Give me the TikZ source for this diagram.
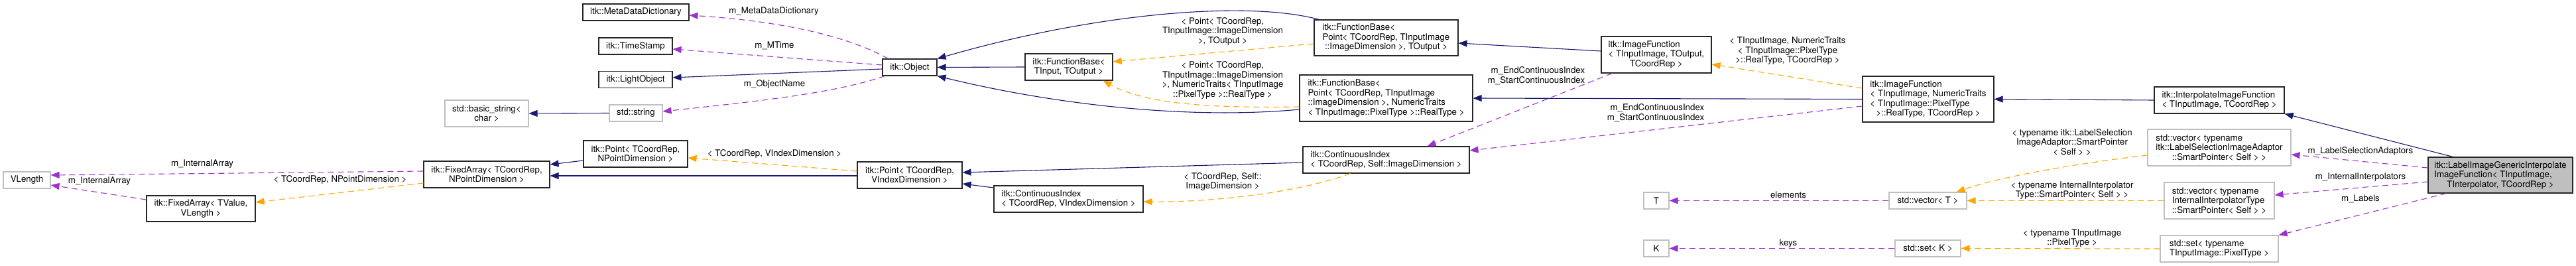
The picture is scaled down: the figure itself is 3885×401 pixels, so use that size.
\documentclass[tikz,border=0pt]{standalone}
\usepackage{fontspec}
\setmainfont{TeX Gyre Heros}
\usepackage{tikz}
\usetikzlibrary{arrows.meta}
\definecolor{dxNavy}{HTML}{191970}
\definecolor{dxPurple}{HTML}{9A32CD}
\definecolor{dxOrange}{HTML}{FFA500}
\definecolor{dxGray}{HTML}{BFBFBF}
\newcommand{\ctr}[1]{\hfill#1\hfill\null}
\tikzset{
  cls/.style={rectangle, draw=black!85, line width=1.1pt, fill=white, inner sep=0pt, align=left, font=\fontsize{13.3}{14.5}\selectfont},
  ext/.style={cls, draw=dxGray},
  focus/.style={cls, fill=dxGray},
  lbl/.style={inner sep=0pt, align=center, font=\fontsize{13.3}{14.5}\selectfont},
  inherit/.style={-{Triangle[length=13pt,width=10pt]}, line width=1.1pt, draw=dxNavy},
  member/.style={-{Triangle[length=13pt,width=10pt]}, line width=1.1pt, draw=dxPurple, dash pattern=on 9pt off 6pt},
  templ/.style={-{Triangle[length=13pt,width=10pt]}, line width=1.1pt, draw=dxOrange, dash pattern=on 9pt off 6pt}
}
\begin{document}
\begin{tikzpicture}[x=1pt,y=-1pt]
\useasboundingbox (0,0) rectangle (3885,401);
% classes
\node[ext, minimum width=71, minimum height=25] (vlen) at (40.5,271.5) {VLength};
\node[cls, minimum width=164, minimum height=39] (faTV) at (303,314.5) {itk::FixedArray< TValue,\\\ctr{VLength >}};
\node[cls, minimum width=190, minimum height=40] (faNP) at (734,263) {itk::FixedArray< TCoordRep,\\\ctr{NPointDimension >}};
\node[ext, minimum width=126, minimum height=40] (bstr) at (734,171) {std::basic\_string<\\\ctr{char >}};
\node[cls, minimum width=160, minimum height=25] (mdd) at (959,18.5) {itk::MetaDataDictionary};
\node[cls, minimum width=111, minimum height=25] (ts) at (958.5,69.5) {itk::TimeStamp};
\node[cls, minimum width=111, minimum height=25] (lo) at (958.5,120) {itk::LightObject};
\node[ext, minimum width=80, minimum height=25] (str) at (959,170.5) {std::string};
\node[cls, minimum width=157, minimum height=40] (ptNP) at (958.5,232) {itk::Point< TCoordRep,\\\ctr{NPointDimension >}};
\node[cls, minimum width=82, minimum height=25] (obj) at (1372,101.5) {itk::Object};
\node[cls, minimum width=158, minimum height=40] (ptVI) at (1372,264) {itk::Point< TCoordRep,\\\ctr{VIndexDimension >}};
\node[cls, minimum width=225, minimum height=40] (ciVI) at (1611.5,300) {itk::ContinuousIndex\\\ctr{< TCoordRep, VIndexDimension >}};
\node[cls, minimum width=132, minimum height=40] (fbTT) at (1612,101) {itk::FunctionBase<\\\ctr{TInput, TOutput >}};
\node[cls, minimum width=217, minimum height=54] (fbPO) at (2090.5,57) {itk::FunctionBase<\\ Point< TCoordRep, TInputImage\\\ctr{::ImageDimension >, TOutput >}};
\node[cls, minimum width=261, minimum height=70] (fbPN) at (2090.5,148) {itk::FunctionBase<\\ Point< TCoordRep, TInputImage\\::ImageDimension >, NumericTraits\\\ctr{< TInputImage::PixelType >::RealType >}};
\node[cls, minimum width=251, minimum height=40] (ciSelf) at (2090.5,241) {itk::ContinuousIndex\\\ctr{< TCoordRep, Self::ImageDimension >}};
\node[cls, minimum width=166, minimum height=55] (imfA) at (2498,82.5) {itk::ImageFunction\\< TInputImage, TOutput,\\\ctr{TCoordRep >}};
\node[cls, minimum width=198, minimum height=69] (imfB) at (2908,149.5) {itk::ImageFunction\\< TInputImage, NumericTraits\\< TInputImage::PixelType\\\ctr{>::RealType, TCoordRep >}};
\node[ext, minimum width=38, minimum height=25] (tT) at (2498,302.5) {T};
\node[ext, minimum width=38, minimum height=25] (tK) at (2498,374.5) {K};
\node[ext, minimum width=117, minimum height=25] (vecT) at (2907.5,302.5) {std::vector< T >};
\node[ext, minimum width=99, minimum height=25] (setK) at (2907.5,374.5) {std::set< K >};
\node[cls, minimum width=196, minimum height=40] (interp) at (3347,151) {itk::InterpolateImageFunction\\\ctr{< TInputImage, TCoordRep >}};
\node[ext, minimum width=216, minimum height=55] (vecLSA) at (3347,222.5) {std::vector< typename\\ itk::LabelSelectionImageAdaptor\\\ctr{::SmartPointer< Self > >}};
\node[ext, minimum width=166, minimum height=55] (vecII) at (3347,302.5) {std::vector< typename\\ InternalInterpolatorType\\\ctr{::SmartPointer< Self > >}};
\node[ext, minimum width=178, minimum height=40] (setPT) at (3347,375) {std::set< typename\\\ctr{TInputImage::PixelType >}};
\node[focus, minimum width=218, minimum height=54] (lig) at (3771,264) {itk::LabelImageGenericInterpolate\\ImageFunction< TInputImage,\\\ctr{TInterpolator, TCoordRep >}};
% edge labels
\node[lbl] (lIA1) at (305,247) {m\_InternalArray};
\node[lbl] (lIA2) at (150,273) {m\_InternalArray};
\node[lbl] (lNPD) at (513,271) {< TCoordRep, NPointDimension >};
\node[lbl] (lMDD) at (1167,17) {m\_MetaDataDictionary};
\node[lbl] (lMT) at (1168,69) {m\_MTime};
\node[lbl] (lON) at (1168,127) {m\_ObjectName};
\node[lbl] (lVID) at (1168,232) {< TCoordRep, VIndexDimension >};
\node[lbl] (lPO) at (1844,47) {< Point< TCoordRep,\\TInputImage::ImageDimension\\>, TOutput >};
\node[lbl] (lPN) at (1844,121) {< Point< TCoordRep,\\TInputImage::ImageDimension\\>, NumericTraits< TInputImage\\::PixelType >::RealType >};
\node[lbl] (lSID) at (1844,274) {< TCoordRep, Self::\\ImageDimension >};
\node[lbl, align=right] (lCI1) at (2317,114) {m\_EndContinuousIndex\\m\_StartContinuousIndex};
\node[lbl, align=right] (lCI2) at (2497,170) {m\_EndContinuousIndex\\m\_StartContinuousIndex};
\node[lbl] (lRT) at (2696,77) {< TInputImage, NumericTraits\\< TInputImage::PixelType\\>::RealType, TCoordRep >};
\node[lbl] (lEl) at (2697,294) {elements};
\node[lbl] (lKeys) at (2697,367) {keys};
\node[lbl] (lLSA) at (3125,214) {< typename itk::LabelSelection\\ImageAdaptor::SmartPointer\\< Self > >};
\node[lbl] (lII) at (3125,287) {< typename InternalInterpolator\\Type::SmartPointer< Self > >};
\node[lbl] (lPT) at (3125,359) {< typename TInputImage\\::PixelType >};
\node[lbl] (lAd) at (3560,228) {m\_LabelSelectionAdaptors};
\node[lbl] (lIn) at (3560,267) {m\_InternalInterpolators};
\node[lbl] (lLb) at (3560,300) {m\_Labels};
% connectors
\draw[member] ([yshift=5]faNP.west) -- ([yshift=7.5]vlen.east);
\draw[member] ([yshift=13.5]faTV.west) -- ([yshift=-7.5]vlen.east);
\draw[templ] ([yshift=-13]faNP.west) -- ([yshift=9.5]faTV.east);
\draw[inherit] (str.west) -- (bstr.east);
\draw[member] ([xshift=9]obj.north west) .. controls (1280,55) and (1180,32) .. ([yshift=-4.5]mdd.east);
\draw[member] ([yshift=3.5]obj.west) -- ([yshift=-4.5]ts.east);
\draw[inherit] ([yshift=-2.5]obj.west) -- ([yshift=3]lo.east);
\draw[member] ([xshift=4]obj.south west) .. controls (1260,140) and (1150,152) .. ([yshift=2.5]str.east);
\draw[inherit] ([yshift=-10]ptNP.west) -- ([yshift=15]faNP.east);
\draw[inherit] ([yshift=-1]ptVI.west) -- ([yshift=-2]faNP.east);
\draw[templ] ([yshift=6]ptVI.west) -- ([yshift=-6]ptNP.east);
\draw[inherit] (fbTT.west) -- (obj.east);
\draw[inherit] ([xshift=8]fbPO.north west) .. controls (1880,0) and (1650,20) .. (obj.north east);
\draw[inherit] ([yshift=-17]fbPN.west) .. controls (1800,180) and (1600,160) .. (obj.south east);
\draw[templ] ([yshift=-9]fbPO.west) -- ([yshift=8]fbTT.east);
\draw[templ] ([yshift=-13]fbPN.west) .. controls (1830,163) and (1730,158) .. ([xshift=-15]fbTT.south east);
\draw[inherit] ([yshift=17]ciVI.west) -- ([yshift=-13]ptVI.east);
\draw[inherit] ([yshift=-4]ciSelf.west) -- ([yshift=4]ptVI.east);
\draw[templ] ([xshift=72]ciSelf.south west) .. controls (1960,290) and (1830,305) .. ([yshift=-4]ciVI.east);
\draw[inherit] ([yshift=5.5]imfA.west) -- ([yshift=-8]fbPO.east);
\draw[inherit] (imfB.west) -- (fbPN.east);
\draw[templ] ([yshift=16.5]imfB.west) -- ([yshift=-14.5]imfA.east);
\draw[member] ([xshift=17]imfA.south west) -- ([xshift=-64]ciSelf.north east);
\draw[member] ([yshift=-10.5]imfB.west) -- ([yshift=14]ciSelf.east);
\draw[inherit] (interp.west) -- (imfB.east);
\draw[inherit] ([xshift=38]lig.north west) -- (interp.south east);
\draw[member] (vecT.west) -- (tT.east);
\draw[member] (setK.west) -- (tK.east);
\draw[templ] ([yshift=-11.5]vecLSA.west) .. controls (3150,244) and (3020,265) .. ([xshift=-16]vecT.north east);
\draw[templ] (vecII.west) -- (vecT.east);
\draw[templ] (setPT.west) -- (setK.east);
\draw[member] ([yshift=11]lig.west) -- ([yshift=-10.5]vecLSA.east);
\draw[member] ([yshift=-10]lig.west) -- ([yshift=8.5]vecII.east);
\draw[member] ([xshift=28]lig.south west) -- (setPT.north east);
\end{tikzpicture}
\end{document}
